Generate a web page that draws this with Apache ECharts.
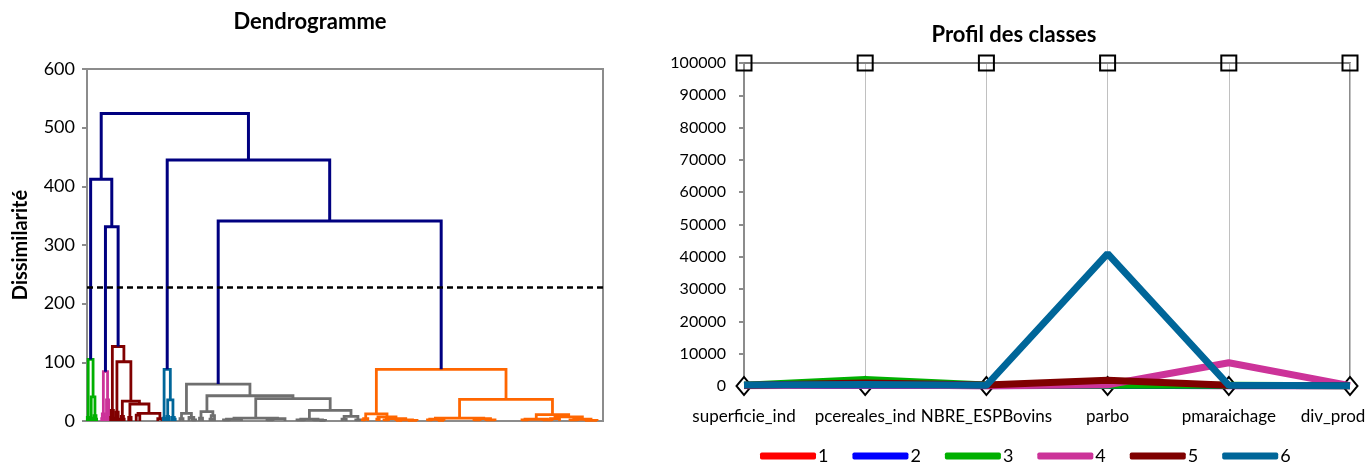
<!DOCTYPE html>
<html>
<head>
<meta charset="utf-8">
<script src="https://cdn.jsdelivr.net/npm/echarts@6/dist/echarts.min.js"></script>
<style>
  html, body { margin: 0; padding: 0; background: #fff; }
  #chart { width: 1371px; height: 463px; }
</style>
</head>
<body>
<div id="chart"></div>
<script>
// dendrogram nodes: [height, left, right]; a leaf is its position on the observation axis
var greenTree = [105, [6, 0.1, 0.7], [41, [5, 1.1, 1.7], [9, 2.3, [3, 2.8, 3.2]]]]
var magentaTree = [84, [12, [4, 4.9, 5.3], 5.8], [36, [6, 6.3, 6.7], [3, 7.0, 7.4]]]
var darkredTree = [127,
  [18, [6, 7.9, 8.3], [4, 8.6, 9.0]],
  [101,
    [15, [5, 9.3, 9.8], [3, 10.2, 10.6]],
    [34,
      [8, 11.4, [3, 11.9, 12.4]],
      [29, [6, 13.9, 14.7], [13, [10, 16.4, 17.6], [4, 23.6, 25.0]]]]]]
var tealTree = [88, [5, 25.4, 26.0], [36, [8, 26.6, 27.2], [6, 28.2, [3, 28.8, 29.4]]]]
var grayTree = [63,
  [13, [4, 31.0, 32.0], [6, 34.0, [2, 35.0, 36.2]]],
  [43,
    [16, [5, 37.5, 38.5], [9, [3, 41.0, 41.8], 42.5]],
    [38,
      [5, [3, [2, 45.5, 47.5], 51.5], [4, [2, 60.0, 62.0], 66.0]],
      [18,
        [3, [2, 70.0, 72.5], [2, 75.5, [1, 77.5, 79.5]]],
        [8, [3, 85.0, 86.4], [2, 89.6, 91.0]]]]]]
var orangeTree = [88,
  [12, [4, [2, 91.8, 92.6], 93.6],
    [7, [3, 96.6, 97.4], [4, [2, 99.0, 100.5], [2, [1, 103.0, 105.0], [1, 107.0, 110.0]]]]],
  [37,
    [5, [3, [2, 113.5, 115.0], [1, 117.0, 119.0]], [4, [2, 129.0, 131.0], [2, 133.0, 136.0]]],
    [11,
      [3, [2, 145.0, 147.0], [2, 152.0, 155.0]],
      [7, [4, 154.5, 157.5], [3, [2, 161.0, 163.5], [1, 166.0, 170.0]]]]]]
var topTree = [524, [412, 'green', [331, 'magenta', 'darkred']], [445, 'teal', [341, 'gray', 'orange']]]
var cutLevel = 228

var categories = ['superficie_ind', 'pcereales_ind', 'NBRE_ESPBovins', 'parbo', 'pmaraichage', 'div_prod']
var class1 = [150, 300, 100, 200, 100, 50]
var class2 = [150, 300, 100, 200, 100, 50]
var class3 = [200, 2000, 300, 200, 200, 100]
var class4 = [100, 300, 50, 400, 7200, 100]
var class5 = [200, 900, 300, 1800, 200, 100]
var class6 = [300, 500, 200, 41000, 200, 100]
var profileMax = [100000, 100000, 100000, 100000, 100000, 100000]
var profileMin = [0, 0, 0, 0, 0, 0]

var clusters = {
  green: { tree: greenTree, color: '#00B000' },
  magenta: { tree: magentaTree, color: '#CC3399' },
  darkred: { tree: darkredTree, color: '#800000' },
  teal: { tree: tealTree, color: '#006699' },
  gray: { tree: grayTree, color: '#6f6f6f' },
  orange: { tree: orangeTree, color: '#FF6600' }
}

var segs = { top: [] }
Object.keys(clusters).forEach(function(k) { segs[k] = [] })

function walk(node, key) {
  if (typeof node === 'number') return { x: node, y: 0 }
  if (typeof node === 'string') return walk(clusters[node].tree, node)
  var l = walk(node[1], key)
  var r = walk(node[2], key)
  segs[key].push({ coords: [[l.x, l.y], [l.x, node[0]], [r.x, node[0]], [r.x, r.y]] })
  return { x: (l.x + r.x) / 2, y: node[0] }
}
walk(topTree, 'top')

var font = 'Lato, "Open Sans", sans-serif'
var dendroSeries = Object.keys(clusters).map(function(k) {
  return {
    type: 'lines', coordinateSystem: 'cartesian2d', xAxisIndex: 0, yAxisIndex: 0,
    polyline: true, silent: true, data: segs[k],
    lineStyle: { color: clusters[k].color, width: 2.8, opacity: 1 }
  }
})
dendroSeries.push({
  type: 'lines', coordinateSystem: 'cartesian2d', xAxisIndex: 0, yAxisIndex: 0,
  polyline: true, silent: true, data: segs.top, z: 3,
  lineStyle: { color: '#000080', width: 3, opacity: 1 },
  markLine: {
    silent: true, symbol: 'none', label: { show: false },
    lineStyle: { color: '#000', type: [6, 4], width: 2.5 },
    data: [{ yAxis: cutLevel }]
  }
})

var classColors = ['#FF0000', '#0000FF', '#00B000', '#CC3399', '#7F0000', '#006699']
var classData = [class1, class2, class3, class4, class5, class6]
var profileSeries = [{
  name: 'min', type: 'line', xAxisIndex: 1, yAxisIndex: 1, data: profileMin, z: 1,
  symbol: 'diamond', symbolSize: [15, 18], lineStyle: { width: 0 },
  itemStyle: { color: '#fff', borderColor: '#000', borderWidth: 2 }
}]
classData.forEach(function(d, i) {
  profileSeries.push({
    name: String(i + 1), type: 'line', xAxisIndex: 1, yAxisIndex: 1, data: d, z: 2 + i,
    symbol: 'none', color: classColors[i], lineStyle: { width: 7, color: classColors[i] }
  })
})
profileSeries.push({
  name: 'max', type: 'line', xAxisIndex: 1, yAxisIndex: 1, data: profileMax, z: 10,
  symbol: 'rect', symbolSize: 15, lineStyle: { width: 2, color: '#808080' },
  itemStyle: { color: 'rgba(0,0,0,0)', borderColor: '#000', borderWidth: 2 }
})

var chart = echarts.init(document.getElementById('chart'))
chart.setOption({
  animation: false,
  textStyle: { fontFamily: font },
  title: [
    { text: 'Dendrogramme', left: 305, top: 6, textAlign: 'center',
      textStyle: { fontFamily: font, fontWeight: 'bold', fontSize: 22, color: '#000' } },
    { text: 'Profil des classes', left: 1009, top: 19, textAlign: 'center',
      textStyle: { fontFamily: font, fontWeight: 'bold', fontSize: 22, color: '#000' } }
  ],
  legend: {
    data: ['1', '2', '3', '4', '5', '6'],
    left: 755, top: 442, icon: 'roundRect', itemWidth: 56, itemHeight: 7, itemGap: 24,
    textStyle: { fontFamily: font, fontSize: 18, color: '#000', padding: [0, 0, 0, -3] }
  },
  grid: [
    { left: 87, right: 768, top: 69, bottom: 42, show: true, borderColor: '#8c8c8c', borderWidth: 2,
      outerBoundsMode: 'none' },
    { left: 744, right: 21, top: 63, bottom: 77, show: true, borderColor: '#8c8c8c', borderWidth: 2,
      outerBoundsMode: 'none' }
  ],
  xAxis: [
    { gridIndex: 0, type: 'value', min: 0, max: 172, axisLabel: { show: false },
      axisTick: { show: false }, splitLine: { show: false },
      axisLine: { lineStyle: { color: '#8c8c8c', width: 2 } } },
    { gridIndex: 1, type: 'category', data: categories, boundaryGap: false,
      axisTick: { show: false },
      axisLine: { lineStyle: { color: '#8c8c8c', width: 2 } },
      axisLabel: { fontFamily: font, fontSize: 17, color: '#000', margin: 22, interval: 0,
        hideOverlap: false,
        // last label is pushed left so it stays inside the page, as in the original
        formatter: function(v, i) { return i === categories.length - 1 ? '{last|' + v + '}' : v },
        rich: { last: { fontFamily: font, fontSize: 17, color: '#000', padding: [0, 34, 0, 0] } } },
      splitLine: { show: true, lineStyle: { color: '#c0c0c0', width: 1 } } }
  ],
  yAxis: [
    { gridIndex: 0, type: 'value', min: 0, max: 600, interval: 100,
      name: 'Dissimilarité', nameLocation: 'middle', nameRotate: 90, nameGap: 56,
      nameTextStyle: { fontFamily: font, fontWeight: 'bold', fontSize: 20, color: '#000' },
      axisLine: { show: true, lineStyle: { color: '#8c8c8c', width: 2 } },
      axisTick: { show: true, length: 5, lineStyle: { color: '#8c8c8c', width: 2 } },
      axisLabel: { fontFamily: font, fontSize: 18, color: '#000', margin: 12 },
      splitLine: { show: false } },
    { gridIndex: 1, type: 'value', min: 0, max: 100000, interval: 10000,
      axisLine: { show: true, lineStyle: { color: '#8c8c8c', width: 2 } },
      axisTick: { show: true, length: 5, lineStyle: { color: '#8c8c8c', width: 2 } },
      axisLabel: { fontFamily: font, fontSize: 16, color: '#000', margin: 18,
        formatter: function(v) { return String(v) } },
      splitLine: { show: false } }
  ],
  series: dendroSeries.concat(profileSeries)
})
</script>
</body>
</html>
